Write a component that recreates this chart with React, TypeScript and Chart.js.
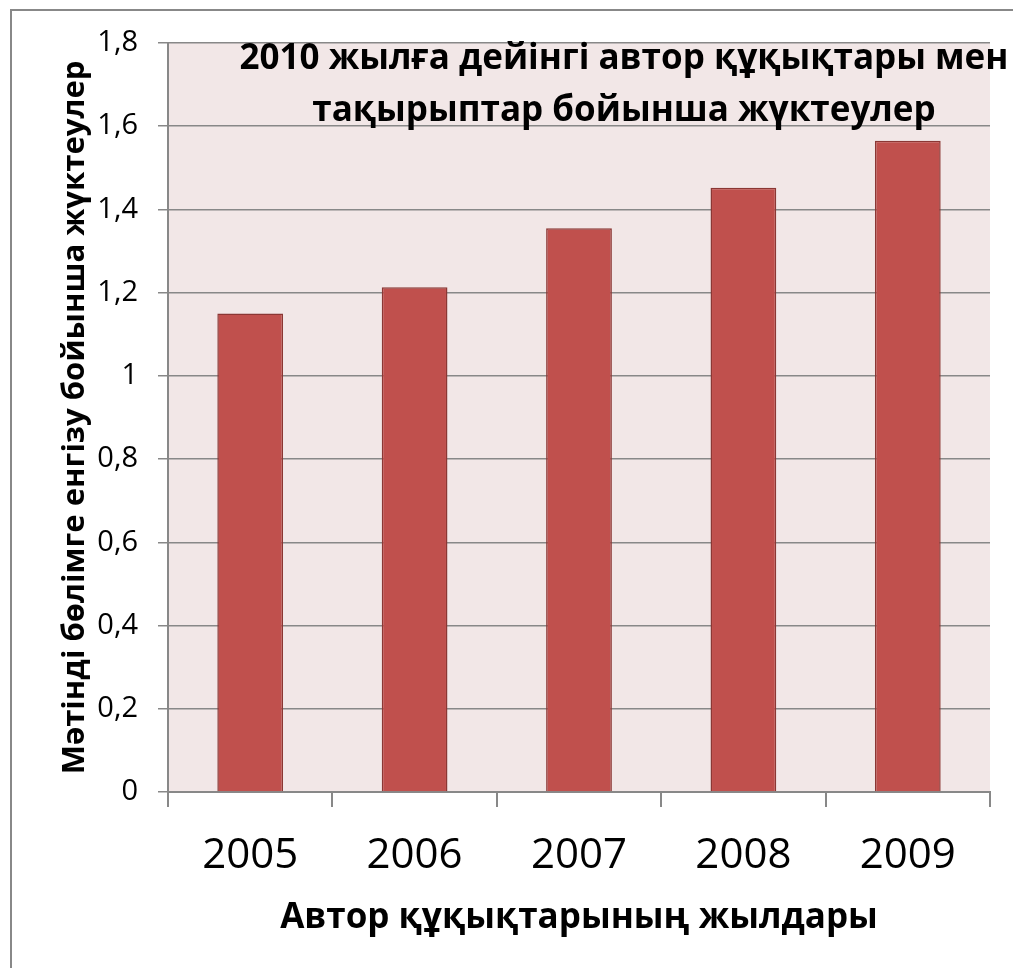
import React, { useEffect, useRef } from "react";
import { Chart, registerables } from "chart.js";

Chart.register(...registerables);

const categories = ["2005", "2006", "2007", "2008", "2009"];
const values = [1.15, 1.213, 1.355, 1.452, 1.565];
const yTickValues = [0, 0.2, 0.4, 0.6, 0.8, 1, 1.2, 1.4, 1.6, 1.8];
const titleLines = ["2010 жылға дейінгі автор құқықтары мен", "тақырыптар бойынша жүктеулер"];
const yTitle = "Мәтінді бөлімге енгізу бойынша жүктеулер";
const xTitle = "Автор құқықтарының жылдары";

const FONT = "'Open Sans', 'Noto Sans', 'DejaVu Sans', sans-serif";

const decor = {
  id: "decor",
  beforeDraw(chart: any) {
    const { ctx, chartArea } = chart;
    ctx.save();
    ctx.fillStyle = "#ffffff";
    ctx.fillRect(0, 0, chart.width, chart.height);
    ctx.fillStyle = "#F2E7E7";
    ctx.fillRect(chartArea.left, chartArea.top, chartArea.right - chartArea.left, chartArea.bottom - chartArea.top);
    ctx.strokeStyle = "#888888";
    ctx.lineWidth = 2;
    ctx.beginPath();
    ctx.moveTo(11, chart.height + 5);
    ctx.lineTo(11, 10);
    ctx.lineTo(chart.width + 5, 10);
    ctx.stroke();
    ctx.restore();
  },
  afterDatasetsDraw(chart: any) {
    const { ctx } = chart;
    ctx.save();
    ctx.fillStyle = "#000000";
    ctx.font = `bold 35px ${FONT}`;
    ctx.textAlign = "center";
    ctx.textBaseline = "alphabetic";
    ctx.fillText(titleLines[0], 624, 69);
    ctx.fillText(titleLines[1], 624, 121);
    ctx.restore();
  },
};

export default function App() {
  const ref = useRef<HTMLCanvasElement | null>(null);
  useEffect(() => {
    document.body.style.margin = "0";
    const chart = new Chart(ref.current as HTMLCanvasElement, {
      type: "bar",
      data: {
        labels: categories,
        datasets: [
          {
            data: values,
            backgroundColor: "#C0504D",
            borderColor: "#8B3734",
            borderWidth: 1.5,
            barPercentage: 0.4,
            categoryPercentage: 1,
          },
        ],
      },
      options: {
        animation: false,
        responsive: false,
        devicePixelRatio: 1,
        layout: { padding: { top: 43, right: 23, left: 0, bottom: 0 } },
        plugins: { legend: { display: false }, title: { display: false }, tooltip: { enabled: false } },
        scales: {
          x: {
            offset: true,
            grid: { display: true, drawOnChartArea: false, drawTicks: true, tickLength: 15, color: "#888888", lineWidth: 2, offset: true },
            border: { display: true, color: "#888888", width: 2 },
            ticks: { color: "#000000", font: { family: FONT, size: 42 }, padding: 24 },
            title: { display: true, text: xTitle, color: "#000000", font: { family: FONT, size: 35, weight: "bold" }, padding: { bottom: 29 } },
            afterFit(scale: any) {
              scale.height = 176;
            },
          },
          y: {
            min: 0,
            max: 1.8,
            afterBuildTicks(scale: any) {
              scale.ticks = yTickValues.map((v) => ({ value: v }));
            },
            grid: { color: "#888888", lineWidth: 1.5, tickLength: 10 },
            border: { display: true, color: "#888888", width: 2 },
            ticks: {
              color: "#000000",
              font: { family: FONT, size: 29 },
              padding: 20,
              callback: (v: any) => Number(Number(v).toFixed(1)).toString().replace(".", ","),
            },
            title: { display: true, text: yTitle, color: "#000000", font: { family: FONT, size: 31, weight: "bold" }, padding: { top: 57 } },
            afterFit(scale: any) {
              scale.width = 168;
            },
          },
        },
      },
      plugins: [decor],
    });
    return () => chart.destroy();
  }, []);
  return (
    <div style={{ position: "absolute", left: 0, top: 0, width: 1013, height: 968 }}>
      <canvas ref={ref} width={1013} height={968} style={{ width: 1013, height: 968, display: "block" }} />
    </div>
  );
}
